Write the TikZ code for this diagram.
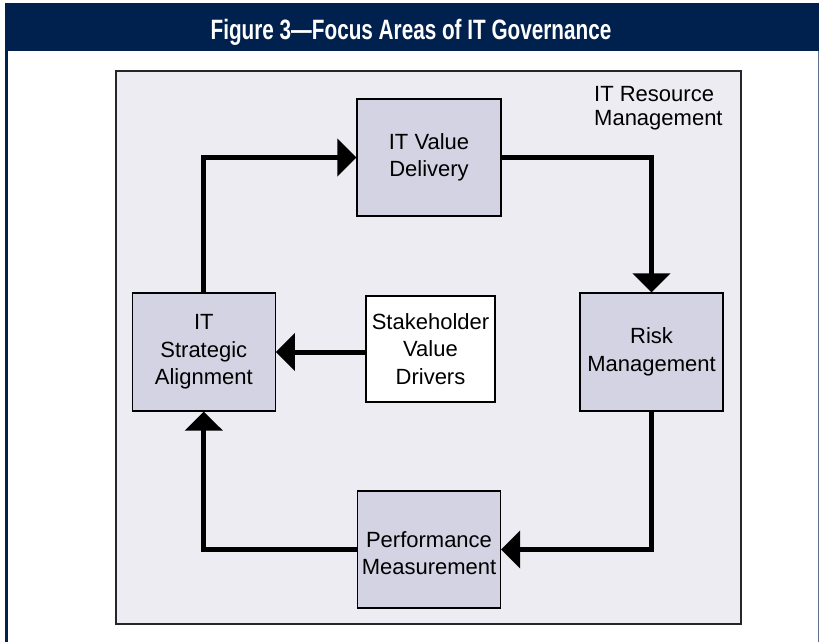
\documentclass[tikz,border=0pt]{standalone}
\usepackage{fontspec}
\setmainfont{Liberation Sans}
\newfontfamily\titlefont[FakeStretch=0.74]{Liberation Sans}
\usetikzlibrary{arrows.meta}
\definecolor{navy}{RGB}{0,33,77}
\definecolor{panel}{RGB}{237,236,243}
\definecolor{boxfill}{RGB}{211,211,227}
\definecolor{rightline}{RGB}{95,112,140}
\tikzset{
  area/.style={draw=black, line width=1.2pt, fill=boxfill, minimum width=144pt, minimum height=117pt, inner sep=0pt, align=center, font=\fontsize{22}{27.5}\selectfont},
  flow/.style={line width=5pt, -{Triangle[length=19pt,width=37pt]}}
}
\begin{document}
\begin{tikzpicture}[x=1pt,y=-1pt]
\useasboundingbox (0,0) rectangle (819,642);
\fill[white] (0,0) rectangle (819,642);
% header band
\fill[navy] (5,3) rectangle (819,51);
\node[text=white, anchor=base, inner sep=0pt, font=\titlefont\bfseries\fontsize{28}{30}\selectfont] (title) at (411,40) {Figure 3—Focus Areas of IT Governance};
% side borders
\draw[navy, line width=2.5pt] (6.3,51) -- (6.3,642);
\draw[rightline, line width=1pt] (818,51) -- (818,642);
% panel
\draw[fill=panel, draw=black!85, line width=1.5pt] (116,71) rectangle (741,624);
\node[anchor=north west, inner sep=0pt, align=left, font=\fontsize{22}{23.5}\selectfont] (res) at (594,86.5) {IT Resource\\Management};
% boxes
\node[area] (del) at (429,157.5) {IT Value\\Delivery};
\node[area, minimum width=143pt, minimum height=118pt] (risk) at (651.5,352) {Risk\\Management};
\node[area, minimum width=143pt] (perf) at (429,549.5) {\raisebox{-6pt}[\height][\depth]{\begin{tabular}{@{}c@{}}Performance\\Measurement\end{tabular}}};
\node[area, minimum width=143pt, minimum height=118pt] (strat) at (203.8,352) {IT\\Strategic\\Alignment};
\node[area, fill=white, minimum width=129pt, minimum height=106pt] (stake) at (430.5,349) {Stakeholder\\Value\\Drivers};
% connectors
\draw[flow] (strat.north) |- (del.west);
\draw[flow] (del.east) -| (risk.north);
\draw[flow] (risk.south) |- (perf.east);
\draw[flow] (perf.west) -| (strat.south);
\draw[flow] (stake.west |- strat.east) -- (strat.east);
\end{tikzpicture}
\end{document}
